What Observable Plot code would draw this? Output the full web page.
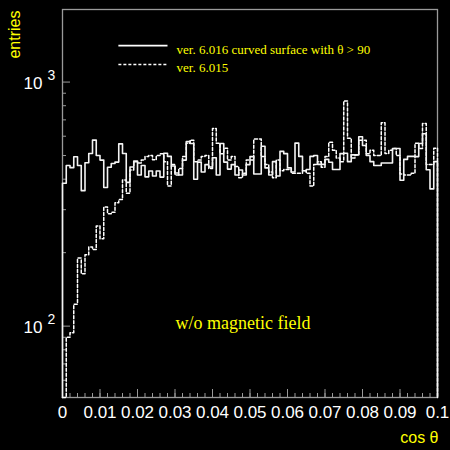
<!DOCTYPE html>
<html><head><meta charset="utf-8">
<script src="https://cdn.jsdelivr.net/npm/d3@7"></script>
<script src="https://cdn.jsdelivr.net/npm/@observablehq/plot@0.6"></script>
<style>html,body{margin:0;padding:0;background:#000;overflow:hidden}</style>
</head><body><div id="chart"></div>
<script>
// histogram: 100 bins over cos(theta) in [0, 0.1]
const binWidth = 0.001;
const xMax = 0.1;
const solidCounts = [
 385,455,446,494,455,359,467,510,578,500,
 479,370,448,464,470,558,510,388,449,475,
 416,455,409,432,412,432,408,511,496,453,
 424,416,479,570,560,400,470,428,459,449,
 490,416,560,470,440,459,416,436,416,459,
 495,420,420,546,445,416,472,412,520,509,
 445,428,562,496,433,438,496,500,460,460,
 482,469,438,438,509,511,472,503,503,597,
 550,500,472,455,455,466,466,466,534,534,
 396,482,496,496,495,560,614,437,365,472];
const dashedCounts = [
 45,90,94,123,190,164,196,211,206,257,
 228,308,289,293,320,330,397,350,436,472,
 466,479,495,500,480,500,509,472,375,459,
 416,442,495,562,578,472,479,495,500,442,
 645,562,509,536,479,495,451,405,423,479,
 479,584,584,495,459,428,405,479,433,438,
 438,423,423,423,433,423,375,459,472,448,
 495,567,526,488,472,837,588,488,503,578,
 578,509,526,500,500,681,510,526,534,500,
 420,416,416,423,562,534,676,459,459,536];
const xTickValues = [0,0.01,0.02,0.03,0.04,0.05,0.06,0.07,0.08,0.09,0.1];
const xTickLabels = ["0","0.01","0.02","0.03","0.04","0.05","0.06","0.07","0.08","0.09","0.1"];
const xMinorTicks = d3.range(1,50).map(i => i*0.002);
const yMajorTicks = [100, 1000];
const yMajorExp = ["2","3"];
const yMinorTicks = [60,70,80,90,200,300,400,500,600,700,800,900];
const yDomain = [51, 1983];
const legendLabels = ["ver. 6.016 curved surface with \u03b8 > 90", "ver. 6.015"];
const legendX = [0.0149, 0.028];
const legendY = [1410, 1180];

function steps(vals){
  const pts = [{x:0, y:yDomain[0]}];
  vals.forEach((v,i) => pts.push({x:i*binWidth, y:v}));
  pts.push({x:xMax, y:vals[vals.length-1]});
  pts.push({x:xMax, y:yDomain[0]});
  return pts;
}
const yellow = "#ffff00";
const grey = "#9a9a9a";
const serif = "'Liberation Serif','Times New Roman',serif";

const chart = Plot.plot({
  width:450, height:450,
  marginLeft:62, marginRight:13, marginTop:9, marginBottom:53,
  style:{background:"#000", color:"#fff", fontFamily:"'Liberation Sans',Arial,sans-serif"},
  x:{domain:[0,xMax], axis:null},
  y:{type:"log", domain:yDomain, clamp:true, axis:null},
  marks:[
    Plot.frame({stroke:grey, strokeWidth:1.3}),
    Plot.tickX(xMinorTicks,{x:d=>d, stroke:grey, insetTop:384}),
    Plot.tickX(xTickValues,{x:d=>d, stroke:grey, insetTop:380}),
    Plot.tickY(yMinorTicks,{y:d=>d, stroke:grey, insetRight:371}),
    Plot.tickY(yMajorTicks,{y:d=>d, stroke:grey, insetRight:367}),
    Plot.line(steps(dashedCounts),{x:"x", y:"y", curve:"step-after", stroke:"#fff", strokeWidth:1.5, strokeDasharray:"3,2"}),
    Plot.line(steps(solidCounts),{x:"x", y:"y", curve:"step-after", stroke:"#f4f4f4", strokeWidth:1.6}),
    Plot.text(xTickValues,{x:d=>d, text:(d,i)=>xTickLabels[i], frameAnchor:"bottom", dy:20, fill:"#fff", fontSize:17}),
    Plot.text(yMajorTicks,{y:d=>d, text:()=>"10", frameAnchor:"left", textAnchor:"end", dx:-20, dy:1, fill:"#fff", fontSize:17}),
    Plot.text(yMajorTicks,{y:d=>d, text:(d,i)=>yMajorExp[i], frameAnchor:"left", textAnchor:"start", dx:-15, dy:-7, fill:"#fff", fontSize:14}),
    Plot.text(["entries"],{frameAnchor:"top-left", rotate:-90, textAnchor:"end", dx:-54, dy:1, fill:yellow, fontSize:16}),
    Plot.text(["cos \u03b8"],{frameAnchor:"bottom-right", textAnchor:"end", dx:1, dy:45, fill:yellow, fontSize:16}),
    Plot.text(["w/o magnetic field"],{frameAnchor:"top-left", textAnchor:"start", dx:113, dy:307, fill:yellow, fontSize:18, fontFamily:serif}),
    Plot.link([0],{x1:legendX[0], x2:legendX[1], y1:legendY[0], y2:legendY[0], stroke:"#fff", strokeWidth:1.6}),
    Plot.link([0],{x1:legendX[0], x2:legendX[1], y1:legendY[1], y2:legendY[1], stroke:"#fff", strokeWidth:1.5, strokeDasharray:"3,2"}),
    Plot.text(legendLabels,{frameAnchor:"top-left", textAnchor:"start", dx:114, dy:35, fill:yellow, fontSize:13, fontFamily:serif, filter:(d,i)=>i===0}),
    Plot.text(legendLabels,{frameAnchor:"top-left", textAnchor:"start", dx:114, dy:53.5, fill:yellow, fontSize:13, fontFamily:serif, filter:(d,i)=>i===1})
  ]
});
document.getElementById("chart").appendChild(chart);
</script>
</body></html>
